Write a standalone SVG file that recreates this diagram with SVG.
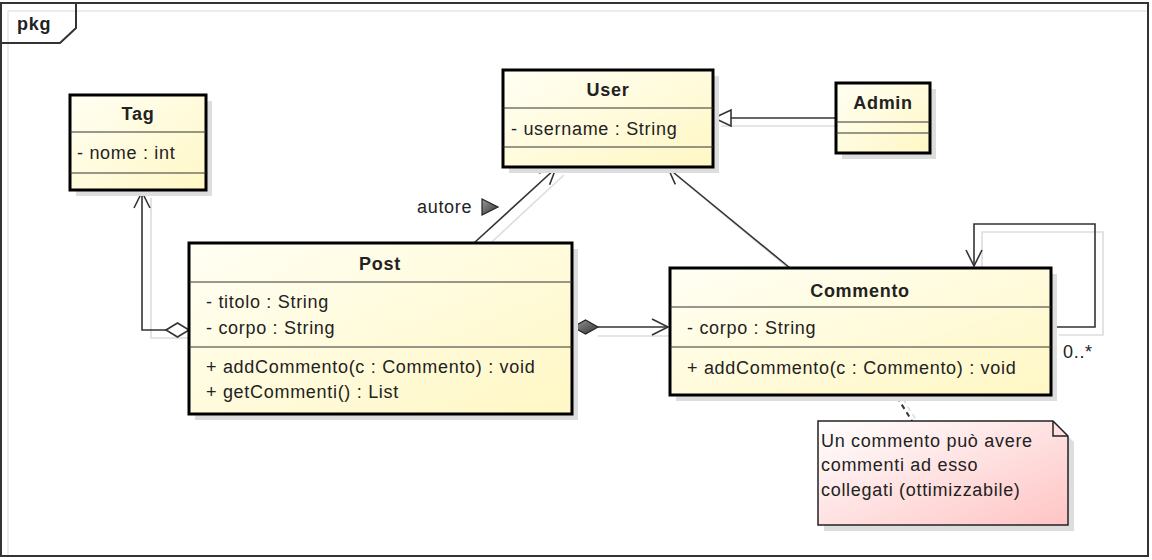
<svg xmlns="http://www.w3.org/2000/svg" width="1152" height="560" viewBox="0 0 1152 560">
<defs>
<linearGradient id="cls" x1="0" y1="0" x2="1" y2="1">
<stop offset="0" stop-color="#fffff4"/>
<stop offset="1" stop-color="#fff7c4"/>
</linearGradient>
<linearGradient id="note" x1="0" y1="0" x2="1" y2="1">
<stop offset="0" stop-color="#ffffff"/>
<stop offset="1" stop-color="#ffc4c4"/>
</linearGradient>
<linearGradient id="dark" x1="0" y1="0" x2="1" y2="1">
<stop offset="0" stop-color="#999"/>
<stop offset="1" stop-color="#333"/>
</linearGradient>
<marker id="open" viewBox="0 0 20 20" refX="18" refY="10" markerWidth="20" markerHeight="20" markerUnits="userSpaceOnUse" orient="auto">
<path d="M2,2 L18,10 L2,18" fill="none" stroke="#333" stroke-width="1.6"/>
</marker>
</defs>
<style>
.frame{fill:none;stroke:#333;stroke-width:2}
.box{fill:url(#cls);stroke:#000;stroke-width:3}
.sh{fill:#ddd}
.sep{stroke:#333;stroke-width:1.2}
.t{font-family:"Liberation Sans",Arial,sans-serif;font-size:18px;letter-spacing:0.7px;fill:#222}
.b{font-weight:bold;text-anchor:middle}
.ln{fill:none;stroke:#333;stroke-width:1.6}
.lns{fill:none;stroke:#ddd;stroke-width:1.6}
</style>
<rect x="0" y="0" width="1152" height="560" fill="#fff"/>
<g id="frame">
<line x1="8" y1="11" x2="1148" y2="11" stroke="#e6e6e6" stroke-width="1.5"/>
<line x1="8" y1="11" x2="8" y2="556" stroke="#e6e6e6" stroke-width="1.5"/>
<rect class="frame" x="1" y="3" width="1147" height="553"/>
<path class="frame" d="M1,43 L60,43 L76,28 L76,3"/>
<text class="t" x="17" y="30" style="font-weight:bold">pkg</text>
</g>
<g id="connectors">
<path class="lns" d="M197,338 L151,338 L151,198"/>
<path class="lns" d="M482,251 L564,175"/>
<path class="lns" d="M798,276 L676,175"/>
<path class="lns" d="M844,126 L721,126"/>
<path class="lns" d="M598,336 L678,336"/>
<path class="lns" d="M1059,335 L1103,335 L1103,232 L982,232 L982,276"/>
<path class="ln" d="M166,330 L142,330 L142,192" marker-end="url(#open)"/>
<polygon points="166,330 177.5,323 189,330 177.5,337" fill="#fff" stroke="#333" stroke-width="1.6"/>
<path class="ln" d="M474,243 L556,168" marker-end="url(#open)"/>
<text class="t" x="417" y="213">autore</text>
<polygon points="482,199 498,207 482,215" fill="url(#dark)" stroke="#222" stroke-width="1.2"/>
<path class="ln" d="M790,268 L668,168" marker-end="url(#open)"/>
<line class="ln" x1="836" y1="118" x2="731" y2="118"/>
<polygon points="714,118 731,110 731,126" fill="#fff" stroke="#333" stroke-width="1.6"/>
<path class="ln" d="M598,327 L668,327" marker-end="url(#open)"/>
<polygon points="573,327 585.5,320 598,327 585.5,334" fill="url(#dark)" stroke="#222" stroke-width="1.2"/>
<path class="ln" d="M1051,327 L1095,327 L1095,224 L974,224 L974,266" marker-end="url(#open)"/>
<text class="t" x="1063" y="358">0..*</text>
<line x1="897" y1="397" x2="912" y2="421" stroke="#333" stroke-width="2" stroke-dasharray="5,4"/>
<line x1="903" y1="399" x2="918" y2="423" stroke="#ddd" stroke-width="1.5" stroke-dasharray="5,4"/>
</g>
<g id="Tag">
<rect class="sh" x="76" y="101" width="136" height="95"/>
<rect class="box" x="70" y="95" width="136" height="95"/>
<line class="sep" x1="70" y1="132" x2="206" y2="132"/>
<line class="sep" x1="70" y1="173" x2="206" y2="173"/>
<text class="t b" x="138" y="120">Tag</text>
<text class="t" x="77" y="159">- nome : int</text>
</g>
<g id="User">
<rect class="sh" x="509" y="76" width="210" height="97"/>
<rect class="box" x="503" y="70" width="210" height="97"/>
<line class="sep" x1="503" y1="108" x2="713" y2="108"/>
<line class="sep" x1="503" y1="147" x2="713" y2="147"/>
<text class="t b" x="608" y="96">User</text>
<text class="t" x="511" y="135">- username : String</text>
</g>
<g id="Admin">
<rect class="sh" x="842" y="89" width="94" height="70"/>
<rect class="box" x="836" y="83" width="94" height="70"/>
<line class="sep" x1="836" y1="122" x2="930" y2="122"/>
<line class="sep" x1="836" y1="133" x2="930" y2="133"/>
<text class="t b" x="883" y="109">Admin</text>
</g>
<g id="Post">
<rect class="sh" x="195" y="249" width="383" height="171"/>
<rect class="box" x="189" y="243" width="383" height="171"/>
<line class="sep" x1="189" y1="282" x2="572" y2="282"/>
<line class="sep" x1="189" y1="347" x2="572" y2="347"/>
<text class="t b" x="380" y="270">Post</text>
<text class="t" x="206" y="308">- titolo : String</text>
<text class="t" x="206" y="334">- corpo : String</text>
<text class="t" x="206" y="373">+ addCommento(c : Commento) : void</text>
<text class="t" x="206" y="398">+ getCommenti() : List</text>
</g>
<g id="Commento">
<rect class="sh" x="676" y="274" width="381" height="127"/>
<rect class="box" x="670" y="268" width="381" height="127"/>
<line class="sep" x1="670" y1="307" x2="1051" y2="307"/>
<line class="sep" x1="670" y1="347" x2="1051" y2="347"/>
<text class="t b" x="860" y="297">Commento</text>
<text class="t" x="687" y="334">- corpo : String</text>
<text class="t" x="687" y="374">+ addCommento(c : Commento) : void</text>
</g>
<g id="Note">
<polygon points="824,427 1059,427 1074,442 1074,531 824,531" fill="#ddd"/>
<polygon points="818,421 1053,421 1068,436 1068,525 818,525" fill="url(#note)" stroke="#222" stroke-width="1.5"/>
<path d="M1053,421 L1053,436 L1068,436" fill="none" stroke="#222" stroke-width="1.5"/>
<text class="t" x="821" y="447">Un commento può avere</text>
<text class="t" x="821" y="471">commenti ad esso</text>
<text class="t" x="821" y="496">collegati (ottimizzabile)</text>
</g>
</svg>
